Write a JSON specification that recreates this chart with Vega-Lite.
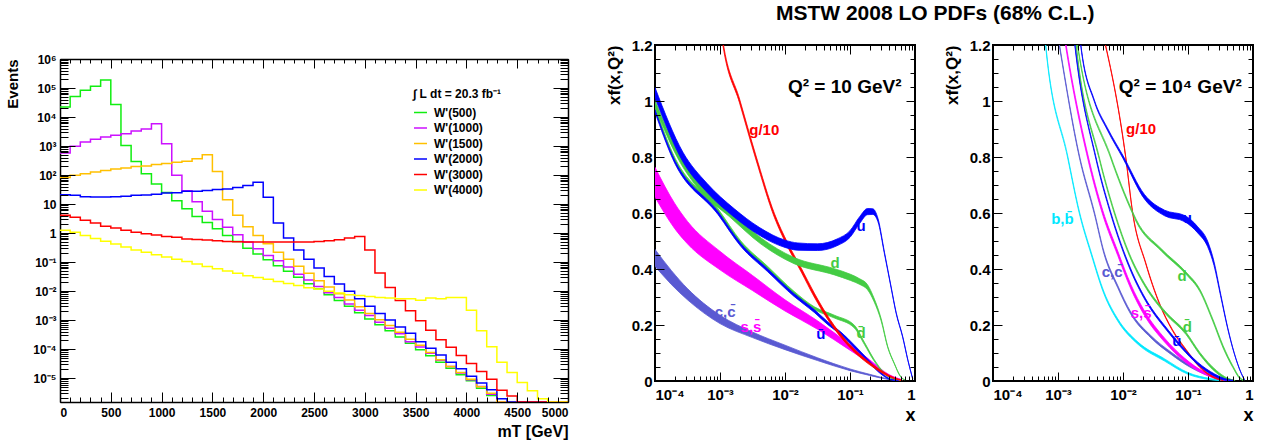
{
"$schema": "https://vega.github.io/schema/vega-lite/v6.json",
"padding": {"left": 5, "top": 3, "right": 5, "bottom": 5},
"config": {"font": "Liberation Sans", "view": {"stroke": "black", "strokeWidth": 2}, "axis": {"labelColor": "black", "titleColor": "black", "tickColor": "black", "tickWidth": 1, "domainColor": "black", "domainWidth": 1.5}},
"title": {"text": "MSTW 2008 LO PDFs (68% C.L.)", "fontSize": 21, "fontWeight": "bold", "anchor": "end", "dx": -160, "offset": 9, "color": "black"},
"datasets": {
"hist": [
{"s":"W'(500)","m":0,"n":22000},{"s":"W'(500)","m":100,"n":51000},{"s":"W'(500)","m":200,"n":83000},{"s":"W'(500)","m":300,"n":114000},{"s":"W'(500)","m":400,"n":190000},{"s":"W'(500)","m":500,"n":27000},{"s":"W'(500)","m":600,"n":1050},{"s":"W'(500)","m":700,"n":290},{"s":"W'(500)","m":800,"n":111},{"s":"W'(500)","m":900,"n":49},{"s":"W'(500)","m":1000,"n":25},{"s":"W'(500)","m":1100,"n":13},{"s":"W'(500)","m":1200,"n":6.9},{"s":"W'(500)","m":1300,"n":3.7},{"s":"W'(500)","m":1400,"n":2.3},{"s":"W'(500)","m":1500,"n":1.4},{"s":"W'(500)","m":1600,"n":0.83},{"s":"W'(500)","m":1700,"n":0.51},{"s":"W'(500)","m":1800,"n":0.30},{"s":"W'(500)","m":1900,"n":0.19},{"s":"W'(500)","m":2000,"n":0.12},{"s":"W'(500)","m":2100,"n":0.074},{"s":"W'(500)","m":2200,"n":0.048},{"s":"W'(500)","m":2300,"n":0.030},{"s":"W'(500)","m":2400,"n":0.018},{"s":"W'(500)","m":2500,"n":0.012},{"s":"W'(500)","m":2600,"n":0.0074},{"s":"W'(500)","m":2700,"n":0.0047},{"s":"W'(500)","m":2800,"n":0.0030},{"s":"W'(500)","m":2900,"n":0.0018},{"s":"W'(500)","m":3000,"n":0.0011},{"s":"W'(500)","m":3100,"n":0.00069},{"s":"W'(500)","m":3200,"n":0.00043},{"s":"W'(500)","m":3300,"n":0.00026},{"s":"W'(500)","m":3400,"n":0.00016},{"s":"W'(500)","m":3500,"n":0.000095},{"s":"W'(500)","m":3600,"n":0.000059},{"s":"W'(500)","m":3700,"n":0.000035},{"s":"W'(500)","m":3800,"n":0.000022},{"s":"W'(500)","m":3900,"n":0.000013},{"s":"W'(500)","m":4000,"n":0.0000081},{"s":"W'(500)","m":4100,"n":0.0000045},{"s":"W'(500)","m":4200,"n":0.0000025},{"s":"W'(500)","m":4300,"n":1e-9},{"s":"W'(500)","m":5000,"n":1e-9},
{"s":"W'(1000)","m":0,"n":575},{"s":"W'(1000)","m":100,"n":980},{"s":"W'(1000)","m":200,"n":1380},{"s":"W'(1000)","m":300,"n":1700},{"s":"W'(1000)","m":400,"n":2040},{"s":"W'(1000)","m":500,"n":2340},{"s":"W'(1000)","m":600,"n":2650},{"s":"W'(1000)","m":700,"n":3280},{"s":"W'(1000)","m":800,"n":3850},{"s":"W'(1000)","m":900,"n":5900},{"s":"W'(1000)","m":1000,"n":1200},{"s":"W'(1000)","m":1100,"n":98},{"s":"W'(1000)","m":1200,"n":29},{"s":"W'(1000)","m":1300,"n":12},{"s":"W'(1000)","m":1400,"n":5.6},{"s":"W'(1000)","m":1500,"n":2.96},{"s":"W'(1000)","m":1600,"n":1.57},{"s":"W'(1000)","m":1700,"n":0.87},{"s":"W'(1000)","m":1800,"n":0.49},{"s":"W'(1000)","m":1900,"n":0.29},{"s":"W'(1000)","m":2000,"n":0.17},{"s":"W'(1000)","m":2100,"n":0.11},{"s":"W'(1000)","m":2200,"n":0.067},{"s":"W'(1000)","m":2300,"n":0.038},{"s":"W'(1000)","m":2400,"n":0.024},{"s":"W'(1000)","m":2500,"n":0.0145},{"s":"W'(1000)","m":2600,"n":0.0087},{"s":"W'(1000)","m":2700,"n":0.006},{"s":"W'(1000)","m":2800,"n":0.0036},{"s":"W'(1000)","m":2900,"n":0.0022},{"s":"W'(1000)","m":3000,"n":0.00145},{"s":"W'(1000)","m":3100,"n":0.00085},{"s":"W'(1000)","m":3200,"n":0.00052},{"s":"W'(1000)","m":3300,"n":0.00034},{"s":"W'(1000)","m":3400,"n":0.00018},{"s":"W'(1000)","m":3500,"n":0.000117},{"s":"W'(1000)","m":3600,"n":0.000072},{"s":"W'(1000)","m":3700,"n":0.000041},{"s":"W'(1000)","m":3800,"n":0.000025},{"s":"W'(1000)","m":3900,"n":0.000015},{"s":"W'(1000)","m":4000,"n":0.0000087},{"s":"W'(1000)","m":4100,"n":0.0000051},{"s":"W'(1000)","m":4200,"n":0.0000028},{"s":"W'(1000)","m":4300,"n":1e-9},{"s":"W'(1000)","m":5000,"n":1e-9},
{"s":"W'(1500)","m":0,"n":83},{"s":"W'(1500)","m":100,"n":98},{"s":"W'(1500)","m":200,"n":111},{"s":"W'(1500)","m":300,"n":126},{"s":"W'(1500)","m":400,"n":144},{"s":"W'(1500)","m":500,"n":162},{"s":"W'(1500)","m":600,"n":174},{"s":"W'(1500)","m":700,"n":195},{"s":"W'(1500)","m":800,"n":205},{"s":"W'(1500)","m":900,"n":229},{"s":"W'(1500)","m":1000,"n":252},{"s":"W'(1500)","m":1100,"n":275},{"s":"W'(1500)","m":1200,"n":297},{"s":"W'(1500)","m":1300,"n":363},{"s":"W'(1500)","m":1400,"n":500},{"s":"W'(1500)","m":1500,"n":133},{"s":"W'(1500)","m":1600,"n":14},{"s":"W'(1500)","m":1700,"n":4.1},{"s":"W'(1500)","m":1800,"n":1.66},{"s":"W'(1500)","m":1900,"n":0.83},{"s":"W'(1500)","m":2000,"n":0.43},{"s":"W'(1500)","m":2100,"n":0.22},{"s":"W'(1500)","m":2200,"n":0.126},{"s":"W'(1500)","m":2300,"n":0.072},{"s":"W'(1500)","m":2400,"n":0.041},{"s":"W'(1500)","m":2500,"n":0.0226},{"s":"W'(1500)","m":2600,"n":0.0138},{"s":"W'(1500)","m":2700,"n":0.0081},{"s":"W'(1500)","m":2800,"n":0.0049},{"s":"W'(1500)","m":2900,"n":0.0029},{"s":"W'(1500)","m":3000,"n":0.0017},{"s":"W'(1500)","m":3100,"n":0.00102},{"s":"W'(1500)","m":3200,"n":0.00065},{"s":"W'(1500)","m":3300,"n":0.00038},{"s":"W'(1500)","m":3400,"n":0.00022},{"s":"W'(1500)","m":3500,"n":0.000135},{"s":"W'(1500)","m":3600,"n":0.000076},{"s":"W'(1500)","m":3700,"n":0.000043},{"s":"W'(1500)","m":3800,"n":0.000025},{"s":"W'(1500)","m":3900,"n":0.0000155},{"s":"W'(1500)","m":4000,"n":0.0000091},{"s":"W'(1500)","m":4100,"n":0.000005},{"s":"W'(1500)","m":4200,"n":0.000003},{"s":"W'(1500)","m":4300,"n":1e-9},{"s":"W'(1500)","m":5000,"n":1e-9},
{"s":"W'(2000)","m":0,"n":21},{"s":"W'(2000)","m":100,"n":20},{"s":"W'(2000)","m":200,"n":18},{"s":"W'(2000)","m":300,"n":17.4},{"s":"W'(2000)","m":400,"n":17.4},{"s":"W'(2000)","m":500,"n":18},{"s":"W'(2000)","m":600,"n":18.6},{"s":"W'(2000)","m":700,"n":20},{"s":"W'(2000)","m":800,"n":20.4},{"s":"W'(2000)","m":900,"n":21.9},{"s":"W'(2000)","m":1000,"n":24},{"s":"W'(2000)","m":1100,"n":24.5},{"s":"W'(2000)","m":1200,"n":27.5},{"s":"W'(2000)","m":1300,"n":27.5},{"s":"W'(2000)","m":1400,"n":29.5},{"s":"W'(2000)","m":1500,"n":31.6},{"s":"W'(2000)","m":1600,"n":33},{"s":"W'(2000)","m":1700,"n":37},{"s":"W'(2000)","m":1800,"n":43.6},{"s":"W'(2000)","m":1900,"n":56},{"s":"W'(2000)","m":2000,"n":17},{"s":"W'(2000)","m":2100,"n":2.2},{"s":"W'(2000)","m":2200,"n":0.68},{"s":"W'(2000)","m":2300,"n":0.26},{"s":"W'(2000)","m":2400,"n":0.126},{"s":"W'(2000)","m":2500,"n":0.062},{"s":"W'(2000)","m":2600,"n":0.032},{"s":"W'(2000)","m":2700,"n":0.0174},{"s":"W'(2000)","m":2800,"n":0.0098},{"s":"W'(2000)","m":2900,"n":0.0054},{"s":"W'(2000)","m":3000,"n":0.003},{"s":"W'(2000)","m":3100,"n":0.0017},{"s":"W'(2000)","m":3200,"n":0.001},{"s":"W'(2000)","m":3300,"n":0.00058},{"s":"W'(2000)","m":3400,"n":0.00035},{"s":"W'(2000)","m":3500,"n":0.00018},{"s":"W'(2000)","m":3600,"n":0.000107},{"s":"W'(2000)","m":3700,"n":0.000062},{"s":"W'(2000)","m":3800,"n":0.000035},{"s":"W'(2000)","m":3900,"n":0.000021},{"s":"W'(2000)","m":4000,"n":0.0000115},{"s":"W'(2000)","m":4100,"n":0.0000068},{"s":"W'(2000)","m":4200,"n":0.000004},{"s":"W'(2000)","m":4300,"n":0.00000195},{"s":"W'(2000)","m":4400,"n":1e-9},{"s":"W'(2000)","m":5000,"n":1e-9},
{"s":"W'(3000)","m":0,"n":4.1},{"s":"W'(3000)","m":100,"n":3.5},{"s":"W'(3000)","m":200,"n":2.75},{"s":"W'(3000)","m":300,"n":2.2},{"s":"W'(3000)","m":400,"n":1.7},{"s":"W'(3000)","m":500,"n":1.48},{"s":"W'(3000)","m":600,"n":1.26},{"s":"W'(3000)","m":700,"n":1.07},{"s":"W'(3000)","m":800,"n":0.95},{"s":"W'(3000)","m":900,"n":0.85},{"s":"W'(3000)","m":1000,"n":0.76},{"s":"W'(3000)","m":1100,"n":0.71},{"s":"W'(3000)","m":1200,"n":0.63},{"s":"W'(3000)","m":1300,"n":0.6},{"s":"W'(3000)","m":1400,"n":0.575},{"s":"W'(3000)","m":1500,"n":0.54},{"s":"W'(3000)","m":1600,"n":0.51},{"s":"W'(3000)","m":1700,"n":0.5},{"s":"W'(3000)","m":1800,"n":0.49},{"s":"W'(3000)","m":1900,"n":0.49},{"s":"W'(3000)","m":2000,"n":0.49},{"s":"W'(3000)","m":2100,"n":0.49},{"s":"W'(3000)","m":2200,"n":0.49},{"s":"W'(3000)","m":2300,"n":0.49},{"s":"W'(3000)","m":2400,"n":0.49},{"s":"W'(3000)","m":2500,"n":0.51},{"s":"W'(3000)","m":2600,"n":0.54},{"s":"W'(3000)","m":2700,"n":0.59},{"s":"W'(3000)","m":2800,"n":0.68},{"s":"W'(3000)","m":2900,"n":0.76},{"s":"W'(3000)","m":3000,"n":0.26},{"s":"W'(3000)","m":3100,"n":0.042},{"s":"W'(3000)","m":3200,"n":0.0132},{"s":"W'(3000)","m":3300,"n":0.0047},{"s":"W'(3000)","m":3400,"n":0.0021},{"s":"W'(3000)","m":3500,"n":0.00095},{"s":"W'(3000)","m":3600,"n":0.00045},{"s":"W'(3000)","m":3700,"n":0.00021},{"s":"W'(3000)","m":3800,"n":0.000115},{"s":"W'(3000)","m":3900,"n":0.00006},{"s":"W'(3000)","m":4000,"n":0.000032},{"s":"W'(3000)","m":4100,"n":0.000017},{"s":"W'(3000)","m":4200,"n":0.0000091},{"s":"W'(3000)","m":4300,"n":0.0000038},{"s":"W'(3000)","m":4400,"n":0.0000024},{"s":"W'(3000)","m":4500,"n":1e-9},{"s":"W'(3000)","m":5000,"n":1e-9},
{"s":"W'(4000)","m":0,"n":1.26},{"s":"W'(4000)","m":100,"n":1.07},{"s":"W'(4000)","m":200,"n":0.83},{"s":"W'(4000)","m":300,"n":0.65},{"s":"W'(4000)","m":400,"n":0.52},{"s":"W'(4000)","m":500,"n":0.42},{"s":"W'(4000)","m":600,"n":0.33},{"s":"W'(4000)","m":700,"n":0.26},{"s":"W'(4000)","m":800,"n":0.22},{"s":"W'(4000)","m":900,"n":0.18},{"s":"W'(4000)","m":1000,"n":0.15},{"s":"W'(4000)","m":1100,"n":0.126},{"s":"W'(4000)","m":1200,"n":0.105},{"s":"W'(4000)","m":1300,"n":0.085},{"s":"W'(4000)","m":1400,"n":0.071},{"s":"W'(4000)","m":1500,"n":0.059},{"s":"W'(4000)","m":1600,"n":0.049},{"s":"W'(4000)","m":1700,"n":0.041},{"s":"W'(4000)","m":1800,"n":0.034},{"s":"W'(4000)","m":1900,"n":0.0295},{"s":"W'(4000)","m":2000,"n":0.0257},{"s":"W'(4000)","m":2100,"n":0.0214},{"s":"W'(4000)","m":2200,"n":0.0182},{"s":"W'(4000)","m":2300,"n":0.0155},{"s":"W'(4000)","m":2400,"n":0.0129},{"s":"W'(4000)","m":2500,"n":0.0117},{"s":"W'(4000)","m":2600,"n":0.0098},{"s":"W'(4000)","m":2700,"n":0.0085},{"s":"W'(4000)","m":2800,"n":0.0074},{"s":"W'(4000)","m":2900,"n":0.0071},{"s":"W'(4000)","m":3000,"n":0.0065},{"s":"W'(4000)","m":3100,"n":0.006},{"s":"W'(4000)","m":3200,"n":0.0058},{"s":"W'(4000)","m":3300,"n":0.0054},{"s":"W'(4000)","m":3400,"n":0.0054},{"s":"W'(4000)","m":3500,"n":0.0048},{"s":"W'(4000)","m":3600,"n":0.0058},{"s":"W'(4000)","m":3700,"n":0.0054},{"s":"W'(4000)","m":3800,"n":0.006},{"s":"W'(4000)","m":3900,"n":0.006},{"s":"W'(4000)","m":4000,"n":0.0022},{"s":"W'(4000)","m":4100,"n":0.00043},{"s":"W'(4000)","m":4200,"n":0.00012},{"s":"W'(4000)","m":4300,"n":0.000035},{"s":"W'(4000)","m":4400,"n":0.0000155},{"s":"W'(4000)","m":4500,"n":0.0000071},{"s":"W'(4000)","m":4600,"n":0.0000037},{"s":"W'(4000)","m":4700,"n":0.00000195},{"s":"W'(4000)","m":4800,"n":1e-9},{"s":"W'(4000)","m":5000,"n":1e-9}
],
"pm": [
{"s":"s","x":0.0001,"lo":0.657,"hi":0.763},{"s":"s","x":0.0002,"lo":0.545,"hi":0.635},{"s":"s","x":0.000316,"lo":0.49,"hi":0.57},{"s":"s","x":0.001,"lo":0.397,"hi":0.463},{"s":"s","x":0.00316,"lo":0.323,"hi":0.377},{"s":"s","x":0.01,"lo":0.25,"hi":0.29},{"s":"s","x":0.0316,"lo":0.185,"hi":0.215},{"s":"s","x":0.1,"lo":0.11,"hi":0.13},{"s":"s","x":0.2,"lo":0.064,"hi":0.076},{"s":"s","x":0.398,"lo":0.017,"hi":0.023},{"s":"s","x":0.631,"lo":0.003,"hi":0.005},
{"s":"c","x":0.0001,"lo":0.41,"hi":0.47},{"s":"c","x":0.000178,"lo":0.345,"hi":0.395},{"s":"c","x":0.000316,"lo":0.29,"hi":0.33},{"s":"c","x":0.001,"lo":0.205,"hi":0.235},{"s":"c","x":0.00316,"lo":0.155,"hi":0.175},{"s":"c","x":0.01,"lo":0.112,"hi":0.128},{"s":"c","x":0.0316,"lo":0.073,"hi":0.083},{"s":"c","x":0.1,"lo":0.037,"hi":0.043},{"s":"c","x":0.2,"lo":0.02,"hi":0.024},{"s":"c","x":0.398,"lo":0.005,"hi":0.007},{"s":"c","x":0.631,"lo":0.0005,"hi":0.0015},
{"s":"dbar","x":0.0001,"lo":0.97,"hi":0.98},{"s":"dbar","x":0.000186,"lo":0.805,"hi":0.815},{"s":"dbar","x":0.00093,"lo":0.605,"hi":0.615},{"s":"dbar","x":0.00209,"lo":0.49,"hi":0.5},{"s":"dbar","x":0.00537,"lo":0.4,"hi":0.41},{"s":"dbar","x":0.0138,"lo":0.31,"hi":0.32},{"s":"dbar","x":0.0282,"lo":0.255,"hi":0.265},{"s":"dbar","x":0.0575,"lo":0.225,"hi":0.235},{"s":"dbar","x":0.117,"lo":0.189,"hi":0.199},{"s":"dbar","x":0.166,"lo":0.131,"hi":0.139},{"s":"dbar","x":0.234,"lo":0.072,"hi":0.078},{"s":"dbar","x":0.339,"lo":0.025,"hi":0.029},{"s":"dbar","x":0.479,"lo":0.005,"hi":0.007},{"s":"dbar","x":0.631,"lo":0.0005,"hi":0.0015},
{"s":"ubar","x":0.0001,"lo":0.96,"hi":0.97},{"s":"ubar","x":0.000186,"lo":0.795,"hi":0.805},{"s":"ubar","x":0.00093,"lo":0.595,"hi":0.605},{"s":"ubar","x":0.00209,"lo":0.481,"hi":0.491},{"s":"ubar","x":0.00537,"lo":0.391,"hi":0.401},{"s":"ubar","x":0.0138,"lo":0.302,"hi":0.312},{"s":"ubar","x":0.0282,"lo":0.245,"hi":0.255},{"s":"ubar","x":0.0457,"lo":0.201,"hi":0.211},{"s":"ubar","x":0.0724,"lo":0.165,"hi":0.175},{"s":"ubar","x":0.117,"lo":0.118,"hi":0.128},{"s":"ubar","x":0.186,"lo":0.071,"hi":0.079},{"s":"ubar","x":0.302,"lo":0.024,"hi":0.03},{"s":"ubar","x":0.417,"lo":0.005,"hi":0.007},{"s":"ubar","x":0.562,"lo":0.0005,"hi":0.0015},
{"s":"g","x":0.00107,"lo":1.223,"hi":1.237},{"s":"g","x":0.00112,"lo":1.193,"hi":1.207},{"s":"g","x":0.002,"lo":0.993,"hi":1.007},{"s":"g","x":0.00355,"lo":0.793,"hi":0.807},{"s":"g","x":0.0069,"lo":0.583,"hi":0.597},{"s":"g","x":0.011,"lo":0.479,"hi":0.493},{"s":"g","x":0.0178,"lo":0.389,"hi":0.403},{"s":"g","x":0.0282,"lo":0.3,"hi":0.314},{"s":"g","x":0.0479,"lo":0.212,"hi":0.224},{"s":"g","x":0.0955,"lo":0.124,"hi":0.134},{"s":"g","x":0.234,"lo":0.047,"hi":0.055},{"s":"g","x":0.479,"lo":0.008,"hi":0.012},{"s":"g","x":0.631,"lo":0.001,"hi":0.003},
{"s":"d","x":0.0001,"lo":0.978,"hi":1.002},{"s":"d","x":0.000234,"lo":0.788,"hi":0.812},{"s":"d","x":0.0005,"lo":0.678,"hi":0.702},{"s":"d","x":0.00138,"lo":0.588,"hi":0.612},{"s":"d","x":0.00427,"lo":0.489,"hi":0.511},{"s":"d","x":0.0138,"lo":0.419,"hi":0.441},{"s":"d","x":0.0575,"lo":0.379,"hi":0.401},{"s":"d","x":0.102,"lo":0.359,"hi":0.381},{"s":"d","x":0.141,"lo":0.345,"hi":0.365},{"s":"d","x":0.186,"lo":0.326,"hi":0.344},{"s":"d","x":0.234,"lo":0.284,"hi":0.296},{"s":"d","x":0.302,"lo":0.214,"hi":0.222},{"s":"d","x":0.38,"lo":0.12,"hi":0.124},{"s":"d","x":0.479,"lo":0.062,"hi":0.064},{"s":"d","x":0.603,"lo":0.0145,"hi":0.0155},{"s":"d","x":0.724,"lo":0.0028,"hi":0.0032},
{"s":"u","x":0.0001,"lo":1.012,"hi":1.048},{"s":"u","x":0.000269,"lo":0.783,"hi":0.817},{"s":"u","x":0.00063,"lo":0.674,"hi":0.706},{"s":"u","x":0.00166,"lo":0.585,"hi":0.615},{"s":"u","x":0.004,"lo":0.521,"hi":0.549},{"s":"u","x":0.01,"lo":0.477,"hi":0.503},{"s":"u","x":0.0158,"lo":0.467,"hi":0.493},{"s":"u","x":0.0316,"lo":0.466,"hi":0.49},{"s":"u","x":0.063,"lo":0.483,"hi":0.507},{"s":"u","x":0.1,"lo":0.513,"hi":0.537},{"s":"u","x":0.141,"lo":0.563,"hi":0.587},{"s":"u","x":0.186,"lo":0.594,"hi":0.616},{"s":"u","x":0.224,"lo":0.595,"hi":0.615},{"s":"u","x":0.269,"lo":0.569,"hi":0.581},{"s":"u","x":0.339,"lo":0.454,"hi":0.46},{"s":"u","x":0.427,"lo":0.335,"hi":0.339},{"s":"u","x":0.513,"lo":0.241,"hi":0.245},{"s":"u","x":0.646,"lo":0.1565,"hi":0.1595},{"s":"u","x":0.776,"lo":0.074,"hi":0.076},{"s":"u","x":0.923,"lo":0.0065,"hi":0.0075}
],
"pr": [
{"s":"b","x":0.00063,"lo":1.226,"hi":1.234},{"s":"b","x":0.000646,"lo":1.196,"hi":1.204},{"s":"b","x":0.00141,"lo":0.796,"hi":0.804},{"s":"b","x":0.00214,"lo":0.596,"hi":0.604},{"s":"b","x":0.00324,"lo":0.452,"hi":0.46},{"s":"b","x":0.00513,"lo":0.309,"hi":0.317},{"s":"b","x":0.0083,"lo":0.214,"hi":0.222},{"s":"b","x":0.017,"lo":0.131,"hi":0.139},{"s":"b","x":0.0437,"lo":0.071,"hi":0.079},{"s":"b","x":0.1,"lo":0.024,"hi":0.03},{"s":"b","x":0.229,"lo":0.004,"hi":0.008},{"s":"b","x":0.398,"lo":0,"hi":0.002},
{"s":"c","x":0.001,"lo":1.226,"hi":1.234},{"s":"c","x":0.00105,"lo":1.196,"hi":1.204},{"s":"c","x":0.00214,"lo":0.796,"hi":0.804},{"s":"c","x":0.00363,"lo":0.596,"hi":0.604},{"s":"c","x":0.00513,"lo":0.452,"hi":0.46},{"s":"c","x":0.0083,"lo":0.333,"hi":0.341},{"s":"c","x":0.0132,"lo":0.238,"hi":0.246},{"s":"c","x":0.0269,"lo":0.154,"hi":0.162},{"s":"c","x":0.055,"lo":0.095,"hi":0.103},{"s":"c","x":0.112,"lo":0.047,"hi":0.055},{"s":"c","x":0.257,"lo":0.012,"hi":0.018},{"s":"c","x":0.501,"lo":0,"hi":0.004},
{"s":"s","x":0.00126,"lo":1.222,"hi":1.238},{"s":"s","x":0.00132,"lo":1.192,"hi":1.208},{"s":"s","x":0.00288,"lo":0.792,"hi":0.808},{"s":"s","x":0.0049,"lo":0.592,"hi":0.608},{"s":"s","x":0.0083,"lo":0.448,"hi":0.464},{"s":"s","x":0.0132,"lo":0.329,"hi":0.345},{"s":"s","x":0.0214,"lo":0.234,"hi":0.25},{"s":"s","x":0.0437,"lo":0.139,"hi":0.153},{"s":"s","x":0.0891,"lo":0.069,"hi":0.081},{"s":"s","x":0.182,"lo":0.023,"hi":0.031},{"s":"s","x":0.324,"lo":0.004,"hi":0.008},{"s":"s","x":0.501,"lo":0,"hi":0.002},
{"s":"g","x":0.00501,"lo":1.228,"hi":1.232},{"s":"g","x":0.00537,"lo":1.198,"hi":1.202},{"s":"g","x":0.011,"lo":0.798,"hi":0.802},{"s":"g","x":0.0141,"lo":0.598,"hi":0.602},{"s":"g","x":0.0224,"lo":0.418,"hi":0.422},{"s":"g","x":0.0363,"lo":0.275,"hi":0.279},{"s":"g","x":0.0575,"lo":0.18,"hi":0.184},{"s":"g","x":0.0933,"lo":0.109,"hi":0.113},{"s":"g","x":0.151,"lo":0.049,"hi":0.053},{"s":"g","x":0.24,"lo":0.013,"hi":0.017},{"s":"g","x":0.347,"lo":0.001,"hi":0.005},
{"s":"dbar","x":0.00186,"lo":1.216,"hi":1.224},{"s":"dbar","x":0.0019,"lo":1.196,"hi":1.204},{"s":"dbar","x":0.00427,"lo":0.796,"hi":0.804},{"s":"dbar","x":0.00741,"lo":0.596,"hi":0.604},{"s":"dbar","x":0.0126,"lo":0.446,"hi":0.454},{"s":"dbar","x":0.0224,"lo":0.333,"hi":0.341},{"s":"dbar","x":0.0457,"lo":0.238,"hi":0.246},{"s":"dbar","x":0.0933,"lo":0.166,"hi":0.174},{"s":"dbar","x":0.151,"lo":0.095,"hi":0.103},{"s":"dbar","x":0.275,"lo":0.029,"hi":0.037},{"s":"dbar","x":0.398,"lo":0.005,"hi":0.011},{"s":"dbar","x":0.525,"lo":0,"hi":0.002},
{"s":"ubar","x":0.00178,"lo":1.216,"hi":1.224},{"s":"ubar","x":0.00182,"lo":1.196,"hi":1.204},{"s":"ubar","x":0.0038,"lo":0.796,"hi":0.804},{"s":"ubar","x":0.00646,"lo":0.596,"hi":0.604},{"s":"ubar","x":0.0132,"lo":0.392,"hi":0.4},{"s":"ubar","x":0.024,"lo":0.273,"hi":0.281},{"s":"ubar","x":0.0437,"lo":0.19,"hi":0.198},{"s":"ubar","x":0.0794,"lo":0.118,"hi":0.126},{"s":"ubar","x":0.141,"lo":0.059,"hi":0.067},{"s":"ubar","x":0.257,"lo":0.017,"hi":0.025},{"s":"ubar","x":0.363,"lo":0.003,"hi":0.009},{"s":"ubar","x":0.501,"lo":0,"hi":0.002},
{"s":"d","x":0.00195,"lo":1.216,"hi":1.224},{"s":"d","x":0.002,"lo":1.196,"hi":1.204},{"s":"d","x":0.00646,"lo":0.796,"hi":0.804},{"s":"d","x":0.0141,"lo":0.596,"hi":0.604},{"s":"d","x":0.0158,"lo":0.571,"hi":0.579},{"s":"d","x":0.0389,"lo":0.464,"hi":0.472},{"s":"d","x":0.0933,"lo":0.381,"hi":0.389},{"s":"d","x":0.151,"lo":0.321,"hi":0.329},{"s":"d","x":0.24,"lo":0.214,"hi":0.222},{"s":"d","x":0.347,"lo":0.118,"hi":0.126},{"s":"d","x":0.49,"lo":0.048,"hi":0.054},{"s":"d","x":0.631,"lo":0.008,"hi":0.012},{"s":"d","x":0.724,"lo":0.001,"hi":0.003},
{"s":"u","x":0.00219,"lo":1.217,"hi":1.223},{"s":"u","x":0.00224,"lo":1.197,"hi":1.203},{"s":"u","x":0.00363,"lo":0.997,"hi":1.003},{"s":"u","x":0.00575,"lo":0.896,"hi":0.904},{"s":"u","x":0.01,"lo":0.795,"hi":0.805},{"s":"u","x":0.0214,"lo":0.65,"hi":0.666},{"s":"u","x":0.0437,"lo":0.59,"hi":0.61},{"s":"u","x":0.0891,"lo":0.569,"hi":0.591},{"s":"u","x":0.141,"lo":0.529,"hi":0.551},{"s":"u","x":0.2,"lo":0.48,"hi":0.5},{"s":"u","x":0.251,"lo":0.413,"hi":0.427},{"s":"u","x":0.316,"lo":0.306,"hi":0.314},{"s":"u","x":0.407,"lo":0.188,"hi":0.192},{"s":"u","x":0.513,"lo":0.099,"hi":0.101},{"s":"u","x":0.661,"lo":0.0265,"hi":0.0275},{"s":"u","x":0.741,"lo":0.0035,"hi":0.0045}
],
"lab": [
{"p":"m","t":"g/10","s":"g","x":0.0048,"y":0.896},{"p":"m","t":"u","s":"u","x":0.148,"y":0.554},{"p":"m","t":"d","s":"d","x":0.0589,"y":0.42},{"p":"m","t":"d\u0304","s":"dbar","x":0.148,"y":0.17},{"p":"m","t":"ū","s":"ubar","x":0.0355,"y":0.168},{"p":"m","t":"c,c\u0304","s":"c","x":0.0012,"y":0.246},{"p":"m","t":"s,s\u0304","s":"s","x":0.003,"y":0.193},
{"p":"r","t":"g/10","s":"g","x":0.019,"y":0.9},{"p":"r","t":"u","s":"u","x":0.0977,"y":0.582},{"p":"r","t":"d","s":"d","x":0.0813,"y":0.375},{"p":"r","t":"d\u0304","s":"dbar","x":0.0977,"y":0.193},{"p":"r","t":"ū","s":"ubar","x":0.0676,"y":0.143},{"p":"r","t":"s,s\u0304","s":"s","x":0.019,"y":0.243},{"p":"r","t":"c,c\u0304","s":"c","x":0.0068,"y":0.39},{"p":"r","t":"b,b\u0304","s":"b","x":0.00117,"y":0.58}
],
"q": [
{"p":"m","t":"Q² = 10 GeV²","x":0.083,"y":1.05},{"p":"r","t":"Q² = 10⁴ GeV²","x":0.076,"y":1.05}
]
},
"spacing": 25,
"resolve": {"scale": {"color": "independent", "stroke": "independent"}, "legend": {"color": "independent", "stroke": "independent"}},
"hconcat": [
 {"width": 508, "height": 357, "view": {"stroke": null},
  "data": {"name": "hist"},
  "resolve": {"axis": {"x": "independent", "y": "independent"}},
  "layer": [
   {"mark": {"type": "line", "interpolate": "step-after", "strokeWidth": 1.5, "clip": true},
    "encoding": {
     "x": {"field": "m", "type": "quantitative", "scale": {"domain": [0, 5000], "nice": false, "zero": false},
       "axis": {"orient": "bottom", "tickCount": 12, "format": "d", "ticks": false, "domain": true, "grid": false, "labelFontSize": 12, "labelFontWeight": "bold", "labelPadding": 5, "labelFlush": true, "title": "mT [GeV]", "titleFontSize": 16, "titleFontWeight": "bold", "titleAnchor": "end", "titlePadding": 5}},
     "y": {"field": "n", "type": "quantitative", "scale": {"type": "log", "domain": [1.5e-6, 1e6], "nice": false, "clamp": true, "range": [357, 14]},
       "axis": {"orient": "left", "values": [1e-5, 1e-4, 0.001, 0.01, 0.1, 1, 10, 100, 1000, 10000, 100000, 1000000], "labelExpr": "['10⁻⁵','10⁻⁴','10⁻³','10⁻²','10⁻¹','1','10','10²','10³','10⁴','10⁵','10⁶'][round(log(datum.value)/LN10)+5]", "ticks": false, "domain": true, "grid": false, "labelFontSize": 12, "labelFontWeight": "bold", "labelPadding": 4, "labelOverlap": false, "title": "Events", "titleFontSize": 15, "titleFontWeight": "bold", "titleAnchor": "end", "titlePadding": 12}},
     "color": {"field": "s", "type": "nominal", "sort": null,
       "scale": {"domain": ["W'(500)", "W'(1000)", "W'(1500)", "W'(2000)", "W'(3000)", "W'(4000)"], "range": ["#11ee11", "#cc11ff", "#ffc000", "#0000ff", "#ff0000", "#ffff00"]},
       "legend": {"orient": "none", "legendX": 353, "legendY": 44, "title": "∫ L dt = 20.3 fb⁻¹", "titleFontSize": 12, "titleFontWeight": "bold", "titleColor": "black", "titlePadding": 4, "symbolType": "stroke", "symbolSize": 169, "symbolStrokeWidth": 1.5, "labelFontSize": 12, "labelFontWeight": "bold", "labelColor": "black", "labelOffset": 6, "rowPadding": 1.5, "padding": 0}}
    }},
   {"mark": {"type": "point", "opacity": 0},
    "encoding": {
     "x": {"field": "m", "type": "quantitative", "scale": {"domain": [0, 5000], "nice": false, "zero": false}, "axis": {"orient": "bottom", "tickCount": 12, "labels": false, "tickSize": 10, "offset": -10, "domain": false, "grid": false, "title": null, "zindex": 1}},
     "y": {"field": "n", "type": "quantitative", "scale": {"type": "log", "domain": [1.5e-6, 1e6], "nice": false, "clamp": true, "range": [357, 14]}, "axis": {"orient": "left", "values": [1e-5, 1e-4, 0.001, 0.01, 0.1, 1, 10, 100, 1000, 10000, 100000, 1000000], "labels": false, "tickSize": 15, "offset": -15, "domain": false, "grid": false, "title": null, "zindex": 1}}
    }},
   {"mark": {"type": "point", "opacity": 0},
    "encoding": {
     "x": {"field": "m", "type": "quantitative", "scale": {"domain": [0, 5000], "nice": false, "zero": false}, "axis": {"orient": "bottom", "tickCount": 60, "labels": false, "tickSize": 5, "offset": -5, "domain": false, "grid": false, "title": null, "zindex": 1}},
     "y": {"field": "n", "type": "quantitative", "scale": {"type": "log", "domain": [1.5e-6, 1e6], "nice": false, "clamp": true, "range": [357, 14]}, "axis": {"orient": "left", "tickCount": 150, "labels": false, "tickSize": 8, "offset": -8, "domain": false, "grid": false, "title": null, "zindex": 1}}
    }},
   {"mark": {"type": "point", "opacity": 0},
    "encoding": {
     "x": {"field": "m", "type": "quantitative", "scale": {"domain": [0, 5000], "nice": false, "zero": false}, "axis": {"orient": "top", "tickCount": 12, "labels": false, "tickSize": 9, "offset": -23, "domain": false, "grid": false, "title": null, "zindex": 1}},
     "y": {"field": "n", "type": "quantitative", "scale": {"type": "log", "domain": [1.5e-6, 1e6], "nice": false, "clamp": true, "range": [357, 14]}, "axis": {"orient": "right", "values": [1e-5, 1e-4, 0.001, 0.01, 0.1, 1, 10, 100, 1000, 10000, 100000, 1000000], "labels": false, "tickSize": 15, "offset": -15, "domain": false, "grid": false, "title": null, "zindex": 1}}
    }},
   {"mark": {"type": "point", "opacity": 0},
    "encoding": {
     "x": {"field": "m", "type": "quantitative", "scale": {"domain": [0, 5000], "nice": false, "zero": false}, "axis": {"orient": "top", "tickCount": 60, "labels": false, "tickSize": 4, "offset": -18, "domain": false, "grid": false, "title": null, "zindex": 1}},
     "y": {"field": "n", "type": "quantitative", "scale": {"type": "log", "domain": [1.5e-6, 1e6], "nice": false, "clamp": true, "range": [357, 14]}, "axis": {"orient": "right", "tickCount": 150, "labels": false, "tickSize": 8, "offset": -8, "domain": false, "grid": false, "title": null, "zindex": 1}}
    }},
   {"mark": {"type": "point", "opacity": 0},
    "encoding": {
     "x": {"field": "m", "type": "quantitative", "scale": {"domain": [0, 5000], "nice": false, "zero": false}, "axis": {"orient": "top", "labels": false, "ticks": false, "offset": -14, "domain": true, "grid": false, "title": null, "zindex": 1}},
     "y": {"field": "n", "type": "quantitative", "scale": {"type": "log", "domain": [1.5e-6, 1e6], "nice": false, "clamp": true, "range": [357, 14]}, "axis": {"orient": "right", "labels": false, "ticks": false, "domain": true, "grid": false, "title": " ", "titleFontSize": 10, "titlePadding": 1, "zindex": 1}}
    }}
  ]
 },
 {"width": 260, "height": 336, "view": {"stroke": "black", "strokeWidth": 2},
  "resolve": {"axis": {"x": "independent", "y": "independent"}},
  "layer": [
   {"data": {"name": "pm"}, "mark": {"type": "area", "interpolate": "monotone", "clip": true, "strokeWidth": 0.8},
    "encoding": {
     "x": {"field": "x", "type": "quantitative", "scale": {"type": "log", "domain": [0.0001, 1], "nice": false}, "axis": {"orient": "bottom", "values": [0.0001, 0.001, 0.01, 0.1, 1], "labelExpr": "['10⁻⁴','10⁻³','10⁻²','10⁻¹','1'][round(log(datum.value)/LN10)+4]", "ticks": false, "domain": false, "grid": false, "labelOverlap": false, "labelFontSize": 15, "labelFontWeight": "bold", "labelPadding": 6, "title": "x", "titleFontSize": 18, "titleFontWeight": "bold", "titleAnchor": "end", "titlePadding": 4}},
     "y": {"field": "lo", "type": "quantitative", "scale": {"domain": [0, 1.2], "nice": false}, "axis": {"orient": "left", "values": [0, 0.2, 0.4, 0.6, 0.8, 1, 1.2], "format": ".1~f", "ticks": false, "domain": false, "grid": false, "labelFontSize": 15, "labelFontWeight": "bold", "labelPadding": 3, "title": "xf(x,Q²)", "titleFontSize": 17, "titleFontWeight": "bold", "titleAnchor": "end", "titlePadding": 8}},
     "y2": {"field": "hi"},
     "color": {"field": "s", "type": "nominal", "scale": {"domain": ["u", "d", "ubar", "dbar", "s", "c", "g", "b"], "range": ["#0000ff", "#44cc44", "#0000ff", "#44cc44", "#ff00ff", "#5a5ad2", "#ff0000", "#00e8ff"]}, "legend": null},
     "stroke": {"field": "s", "type": "nominal", "scale": {"domain": ["u", "d", "ubar", "dbar", "s", "c", "g", "b"], "range": ["#0000ff", "#44cc44", "#0000ff", "#44cc44", "#ff00ff", "#5a5ad2", "#ff0000", "#00e8ff"]}, "legend": null}
    }},
   {"data": {"name": "lab"}, "transform": [{"filter": "datum.p == 'm'"}], "mark": {"type": "text", "fontSize": 15, "fontWeight": "bold"},
    "encoding": {
     "x": {"field": "x", "type": "quantitative", "scale": {"type": "log", "domain": [0.0001, 1], "nice": false}, "axis": {"orient": "bottom", "values": [0.0001, 0.001, 0.01, 0.1, 1], "labels": false, "tickSize": 9, "offset": -9, "domain": false, "grid": false, "title": null, "zindex": 1}},
     "y": {"field": "y", "type": "quantitative", "scale": {"domain": [0, 1.2], "nice": false}, "axis": {"orient": "left", "values": [0, 0.2, 0.4, 0.6, 0.8, 1, 1.2], "labels": false, "tickSize": 9, "offset": -9, "domain": false, "grid": false, "title": null, "zindex": 1}},
     "text": {"field": "t"},
     "color": {"field": "s", "type": "nominal", "scale": {"domain": ["u", "d", "ubar", "dbar", "s", "c", "g", "b"], "range": ["#0000ff", "#44cc44", "#0000ff", "#44cc44", "#ff00ff", "#5a5ad2", "#ff0000", "#00e8ff"]}, "legend": null}
    }},
   {"data": {"name": "q"}, "transform": [{"filter": "datum.p == 'm'"}], "mark": {"type": "text", "fontSize": 19, "fontWeight": "bold", "color": "black"},
    "encoding": {
     "x": {"field": "x", "type": "quantitative", "scale": {"type": "log", "domain": [0.0001, 1], "nice": false}, "axis": {"orient": "bottom", "tickCount": 60, "labels": false, "tickSize": 5, "offset": -5, "domain": false, "grid": false, "title": null, "zindex": 1}},
     "y": {"field": "y", "type": "quantitative", "scale": {"domain": [0, 1.2], "nice": false}, "axis": {"orient": "left", "tickCount": 28, "labels": false, "tickSize": 5, "offset": -5, "domain": false, "grid": false, "title": null, "zindex": 1}},
     "text": {"field": "t"}
    }},
   {"data": {"name": "pm"}, "mark": {"type": "point", "opacity": 0},
    "encoding": {
     "x": {"field": "x", "type": "quantitative", "scale": {"type": "log", "domain": [0.0001, 1], "nice": false}, "axis": {"orient": "top", "values": [0.0001, 0.001, 0.01, 0.1, 1], "labels": false, "tickSize": 9, "offset": -9, "domain": false, "grid": false, "title": null, "zindex": 1}},
     "y": {"field": "lo", "type": "quantitative", "scale": {"domain": [0, 1.2], "nice": false}, "axis": {"orient": "right", "values": [0, 0.2, 0.4, 0.6, 0.8, 1, 1.2], "labels": false, "tickSize": 9, "offset": -9, "domain": false, "grid": false, "title": null, "zindex": 1}}
    }},
   {"data": {"name": "pm"}, "mark": {"type": "point", "opacity": 0},
    "encoding": {
     "x": {"field": "x", "type": "quantitative", "scale": {"type": "log", "domain": [0.0001, 1], "nice": false}, "axis": {"orient": "top", "tickCount": 60, "labels": false, "tickSize": 5, "offset": -5, "domain": false, "grid": false, "title": null, "zindex": 1}},
     "y": {"field": "lo", "type": "quantitative", "scale": {"domain": [0, 1.2], "nice": false}, "axis": {"orient": "right", "tickCount": 28, "labels": false, "tickSize": 5, "offset": -5, "domain": false, "grid": false, "title": null, "zindex": 1}}
    }}
  ]
 },
 {"width": 260, "height": 336, "view": {"stroke": "black", "strokeWidth": 2},
  "resolve": {"axis": {"x": "independent", "y": "independent"}},
  "layer": [
   {"data": {"name": "pr"}, "mark": {"type": "area", "interpolate": "monotone", "clip": true, "strokeWidth": 0.8},
    "encoding": {
     "x": {"field": "x", "type": "quantitative", "scale": {"type": "log", "domain": [0.0001, 1], "nice": false}, "axis": {"orient": "bottom", "values": [0.0001, 0.001, 0.01, 0.1, 1], "labelExpr": "['10⁻⁴','10⁻³','10⁻²','10⁻¹','1'][round(log(datum.value)/LN10)+4]", "ticks": false, "domain": false, "grid": false, "labelOverlap": false, "labelFontSize": 15, "labelFontWeight": "bold", "labelPadding": 6, "title": "x", "titleFontSize": 18, "titleFontWeight": "bold", "titleAnchor": "end", "titlePadding": 4}},
     "y": {"field": "lo", "type": "quantitative", "scale": {"domain": [0, 1.2], "nice": false}, "axis": {"orient": "left", "values": [0, 0.2, 0.4, 0.6, 0.8, 1, 1.2], "format": ".1~f", "ticks": false, "domain": false, "grid": false, "labelFontSize": 15, "labelFontWeight": "bold", "labelPadding": 3, "title": "xf(x,Q²)", "titleFontSize": 17, "titleFontWeight": "bold", "titleAnchor": "end", "titlePadding": 8}},
     "y2": {"field": "hi"},
     "color": {"field": "s", "type": "nominal", "scale": {"domain": ["u", "d", "ubar", "dbar", "s", "c", "g", "b"], "range": ["#0000ff", "#44cc44", "#0000ff", "#44cc44", "#ff00ff", "#5a5ad2", "#ff0000", "#00e8ff"]}, "legend": null},
     "stroke": {"field": "s", "type": "nominal", "scale": {"domain": ["u", "d", "ubar", "dbar", "s", "c", "g", "b"], "range": ["#0000ff", "#44cc44", "#0000ff", "#44cc44", "#ff00ff", "#5a5ad2", "#ff0000", "#00e8ff"]}, "legend": null}
    }},
   {"data": {"name": "lab"}, "transform": [{"filter": "datum.p == 'r'"}], "mark": {"type": "text", "fontSize": 15, "fontWeight": "bold"},
    "encoding": {
     "x": {"field": "x", "type": "quantitative", "scale": {"type": "log", "domain": [0.0001, 1], "nice": false}, "axis": {"orient": "bottom", "values": [0.0001, 0.001, 0.01, 0.1, 1], "labels": false, "tickSize": 9, "offset": -9, "domain": false, "grid": false, "title": null, "zindex": 1}},
     "y": {"field": "y", "type": "quantitative", "scale": {"domain": [0, 1.2], "nice": false}, "axis": {"orient": "left", "values": [0, 0.2, 0.4, 0.6, 0.8, 1, 1.2], "labels": false, "tickSize": 9, "offset": -9, "domain": false, "grid": false, "title": null, "zindex": 1}},
     "text": {"field": "t"},
     "color": {"field": "s", "type": "nominal", "scale": {"domain": ["u", "d", "ubar", "dbar", "s", "c", "g", "b"], "range": ["#0000ff", "#44cc44", "#0000ff", "#44cc44", "#ff00ff", "#5a5ad2", "#ff0000", "#00e8ff"]}, "legend": null}
    }},
   {"data": {"name": "q"}, "transform": [{"filter": "datum.p == 'r'"}], "mark": {"type": "text", "fontSize": 19, "fontWeight": "bold", "color": "black"},
    "encoding": {
     "x": {"field": "x", "type": "quantitative", "scale": {"type": "log", "domain": [0.0001, 1], "nice": false}, "axis": {"orient": "bottom", "tickCount": 60, "labels": false, "tickSize": 5, "offset": -5, "domain": false, "grid": false, "title": null, "zindex": 1}},
     "y": {"field": "y", "type": "quantitative", "scale": {"domain": [0, 1.2], "nice": false}, "axis": {"orient": "left", "tickCount": 28, "labels": false, "tickSize": 5, "offset": -5, "domain": false, "grid": false, "title": null, "zindex": 1}},
     "text": {"field": "t"}
    }},
   {"data": {"name": "pr"}, "mark": {"type": "point", "opacity": 0},
    "encoding": {
     "x": {"field": "x", "type": "quantitative", "scale": {"type": "log", "domain": [0.0001, 1], "nice": false}, "axis": {"orient": "top", "values": [0.0001, 0.001, 0.01, 0.1, 1], "labels": false, "tickSize": 9, "offset": -9, "domain": false, "grid": false, "title": null, "zindex": 1}},
     "y": {"field": "lo", "type": "quantitative", "scale": {"domain": [0, 1.2], "nice": false}, "axis": {"orient": "right", "values": [0, 0.2, 0.4, 0.6, 0.8, 1, 1.2], "labels": false, "tickSize": 9, "offset": -9, "domain": false, "grid": false, "title": null, "zindex": 1}}
    }},
   {"data": {"name": "pr"}, "mark": {"type": "point", "opacity": 0},
    "encoding": {
     "x": {"field": "x", "type": "quantitative", "scale": {"type": "log", "domain": [0.0001, 1], "nice": false}, "axis": {"orient": "top", "tickCount": 60, "labels": false, "tickSize": 5, "offset": -5, "domain": false, "grid": false, "title": null, "zindex": 1}},
     "y": {"field": "lo", "type": "quantitative", "scale": {"domain": [0, 1.2], "nice": false}, "axis": {"orient": "right", "tickCount": 28, "labels": false, "tickSize": 5, "offset": -5, "domain": false, "grid": false, "title": null, "zindex": 1}}
    }}
  ]
 }
]
}
